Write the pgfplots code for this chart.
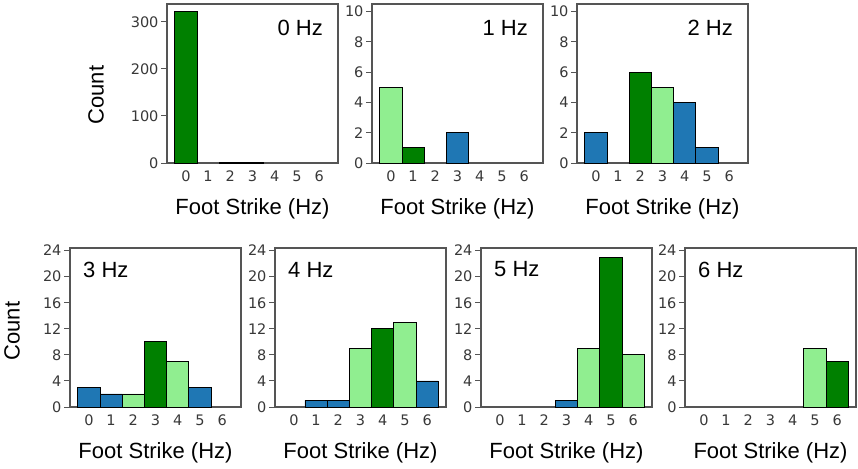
\documentclass[border=0pt]{standalone}
\usepackage{pgfplots}
\pgfplotsset{compat=1.18}
\usepackage{fontspec}
\setmainfont{Liberation Sans}
\newfontfamily\dejavu{DejaVu Sans}
\definecolor{dgreen}{HTML}{008000}
\definecolor{lgreen}{HTML}{90EE90}
\definecolor{mblue}{HTML}{1F77B4}
\definecolor{spine}{HTML}{555555}
\definecolor{tl}{HTML}{383838}
\newcommand{\tickfont}{\dejavu\fontsize{14.5}{15}\selectfont}
\pgfplotsset{
  panel/.style={
    scale only axis, width=171pt, height=159pt,
    anchor=south west,
    xmin=-0.85, xmax=6.85, ymin=0,
    xtick={0,...,6},
    axis line style={spine, line width=1.1pt},
    tick align=outside,
    tick pos=left,
    xtick style={draw=none},
    ytick style={spine, line width=1pt},
    major tick length=6pt,
    /pgf/number format/assume math mode=true,
    every tick label/.append style={font=\tickfont, text=tl},
    xticklabel style={yshift=2pt},
    yticklabel style={xshift=1pt},
    xlabel={Foot Strike (Hz)},
    xlabel style={font=\fontsize{22}{24}\selectfont, at={(axis description cs:0.5,0)}, anchor=center, yshift=-46pt},
    scaled y ticks=false,
    clip=false,
  },
  top/.style={panel, ymax=10.5, ytick={0,2,...,10}},
  bot/.style={panel, ymax=24.4, ytick={0,4,...,24}},
  hb/.style={ybar, bar width=1, bar shift=0pt, draw=black, line width=0.8pt, fill=#1},
}
\newcommand{\toplab}[1]{\node[anchor=east, inner sep=0pt, font=\fontsize{22}{24}\selectfont] at (rel axis cs:1,1) [xshift=-15pt, yshift=-23.5pt] {#1};}
\newcommand{\botlab}[1]{\node[anchor=west, inner sep=0pt, font=\fontsize{22}{24}\selectfont] at (rel axis cs:0,1) [xshift=13pt, yshift=-21.5pt] {#1};}
\begin{document}
\begin{tikzpicture}[x=1pt, y=1pt]
\useasboundingbox (0,0) rectangle (858,-468);
% ---- top row
\begin{axis}[panel, at={(167pt,-163pt)}, ymax=338, ytick={0,100,200,300}]
\addplot[hb=dgreen] coordinates {(0,322)};
\addplot[hb=mblue] coordinates {(2,1) (3,1)};
\toplab{0 Hz}
\end{axis}
\begin{axis}[top, at={(372pt,-163pt)}]
\addplot[hb=lgreen] coordinates {(0,5)};
\addplot[hb=dgreen] coordinates {(1,1)};
\addplot[hb=mblue] coordinates {(3,2)};
\toplab{1 Hz}
\end{axis}
\begin{axis}[top, at={(577pt,-163pt)}]
\addplot[hb=mblue] coordinates {(0,2) (4,4) (5,1)};
\addplot[hb=dgreen] coordinates {(2,6)};
\addplot[hb=lgreen] coordinates {(3,5)};
\toplab{2 Hz}
\end{axis}
% ---- bottom row
\begin{axis}[bot, at={(70pt,-407pt)}]
\addplot[hb=mblue] coordinates {(0,3) (1,2) (5,3)};
\addplot[hb=lgreen] coordinates {(2,2) (4,7)};
\addplot[hb=dgreen] coordinates {(3,10)};
\botlab{3 Hz}
\end{axis}
\begin{axis}[bot, at={(275pt,-407pt)}]
\addplot[hb=mblue] coordinates {(1,1) (2,1) (6,4)};
\addplot[hb=lgreen] coordinates {(3,9) (5,13)};
\addplot[hb=dgreen] coordinates {(4,12)};
\botlab{4 Hz}
\end{axis}
\begin{axis}[bot, at={(481pt,-407pt)}]
\addplot[hb=mblue] coordinates {(3,1)};
\addplot[hb=lgreen] coordinates {(4,9) (6,8)};
\addplot[hb=dgreen] coordinates {(5,23)};
\botlab{5 Hz}
\end{axis}
\begin{axis}[bot, at={(685pt,-407pt)}]
\addplot[hb=lgreen] coordinates {(5,9)};
\addplot[hb=dgreen] coordinates {(6,7)};
\botlab{6 Hz}
\end{axis}
\node[rotate=90, font=\fontsize{22}{24}\selectfont] at (96,-95) {Count};
\node[rotate=90, font=\fontsize{22}{24}\selectfont] at (12,-331) {Count};
\end{tikzpicture}
\end{document}
